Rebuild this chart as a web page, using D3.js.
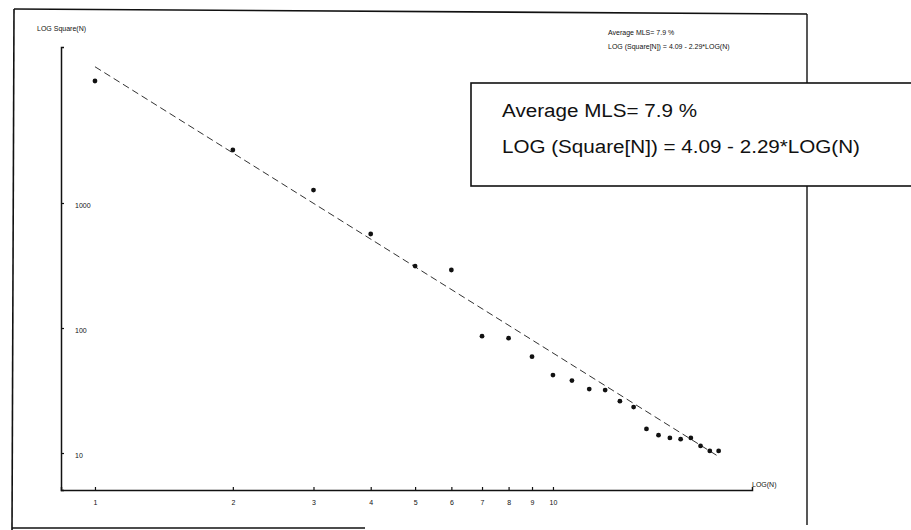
<!DOCTYPE html>
<html>
<head>
<meta charset="utf-8">
<script src="https://cdn.jsdelivr.net/npm/d3@7"></script>
<style>
  html, body { margin: 0; padding: 0; background: #fff; }
  svg { display: block; }
  text { font-family: "Liberation Sans", Arial, sans-serif; fill: #111; }
</style>
</head>
<body>
<svg id="chart" width="911" height="530"></svg>
<script>
// Number of squares N and the measured Square(N) count for each
const sizes = [1, 2, 3, 4, 5, 6, 7, 8, 9, 10, 11, 12, 13, 14, 15, 16, 17, 18, 19, 20, 21, 22, 23];
const squares = [9460, 2655, 1270, 565, 313, 291, 86, 83, 59, 42, 38, 32.5, 31.9, 26, 23.3,
                 15.6, 13.9, 13.2, 12.9, 13.2, 11.4, 10.4, 10.4];

// Regression: LOG(Square(N)) = 4.09 - 2.29 * LOG(N)
const fitIntercept = 4.09;
const fitSlope = -2.29;
const fitRange = [1, 23];

// Axis extents and ticks
const xDomain = [0.843, 27.2];
const yDomain = [5.06, 17700];
const xTicks = [1, 2, 3, 4, 5, 6, 7, 8, 9, 10];
const yTicks = [10, 100, 1000];

const legendLines = ["Average MLS= 7.9 %", "LOG (Square[N]) = 4.09 - 2.29*LOG(N)"];

const svg = d3.select("#chart");

const x = d3.scaleLog().domain(xDomain).range([61, 752]);
const y = d3.scaleLog().domain(yDomain).range([490, 47]);

// Outer page frame
const frame = svg.append("g").attr("stroke", "#111").attr("fill", "none");
frame.append("line").attr("x1", 14).attr("y1", 9).attr("x2", 807).attr("y2", 14).attr("stroke-width", 1.6);
frame.append("line").attr("x1", 14).attr("y1", 9).attr("x2", 12).attr("y2", 530).attr("stroke-width", 1.6);
frame.append("line").attr("x1", 12).attr("y1", 528).attr("x2", 365).attr("y2", 528).attr("stroke-width", 1.6);
frame.append("line").attr("x1", 807).attr("y1", 14).attr("x2", 807).attr("y2", 525).attr("stroke-width", 1.4);

// Axes
const xAxis = d3.axisBottom(x).tickValues(xTicks).tickSize(-3).tickPadding(10)
  .tickFormat(d3.format("d"));
const gx = svg.append("g").attr("transform", "translate(0,490)").call(xAxis);
gx.select(".domain").attr("stroke", "#111").attr("stroke-width", 1.5);
gx.selectAll(".tick line").attr("stroke", "#111").attr("stroke-width", 1.2);
gx.selectAll(".tick text").attr("font-size", 7).attr("fill", "#333")
  .style("font-family", "'Liberation Sans', Arial, sans-serif");

const yAxis = d3.axisLeft(y).tickValues(yTicks).tickSize(-3).tickPadding(-14)
  .tickFormat(d3.format("d"));
const gy = svg.append("g").attr("transform", "translate(61,0)").call(yAxis);
gy.select(".domain").attr("stroke", "#111").attr("stroke-width", 1.5);
gy.selectAll(".tick line").attr("stroke", "#111").attr("stroke-width", 1.2);
gy.selectAll(".tick text").attr("font-size", 7).attr("fill", "#333")
  .attr("text-anchor", "start").attr("dy", "0.6em")
  .style("font-family", "'Liberation Sans', Arial, sans-serif");

// Axis titles
svg.append("text").attr("x", 37).attr("y", 31).attr("font-size", 7).attr("fill", "#333")
  .text("LOG Square(N)");
svg.append("text").attr("x", 752).attr("y", 487).attr("font-size", 7).attr("fill", "#333")
  .text("LOG(N)");

// Small caption at the top right
svg.append("g").selectAll("text").data(legendLines).join("text")
  .attr("x", 608).attr("y", (d, i) => 35 + i * 14)
  .attr("font-size", 7).attr("fill", "#333")
  .text(d => d);

// Fitted line
const fitLine = d3.line()
  .x(d => x(d))
  .y(d => y(Math.pow(10, fitIntercept + fitSlope * Math.log10(d))));
svg.append("path").datum(fitRange)
  .attr("d", fitLine)
  .attr("fill", "none").attr("stroke", "#333").attr("stroke-width", 1)
  .attr("stroke-dasharray", "7,4");

// Data points
svg.append("g").selectAll("circle").data(sizes).join("circle")
  .attr("cx", d => x(d))
  .attr("cy", (d, i) => y(squares[i]))
  .attr("r", 2.4)
  .attr("fill", "#111");

// Legend box with the fit summary
const box = svg.append("g");
box.append("rect").attr("x", 471).attr("y", 83).attr("width", 460).attr("height", 103)
  .attr("fill", "#fff").attr("stroke", "#111").attr("stroke-width", 1.6);
box.selectAll("text").data(legendLines).join("text")
  .attr("x", 502).attr("y", (d, i) => 117 + i * 36)
  .attr("font-size", 18)
  .attr("textLength", (d, i) => i === 0 ? 195 : 358)
  .attr("lengthAdjust", "spacingAndGlyphs")
  .text(d => d);
</script>
</body>
</html>
